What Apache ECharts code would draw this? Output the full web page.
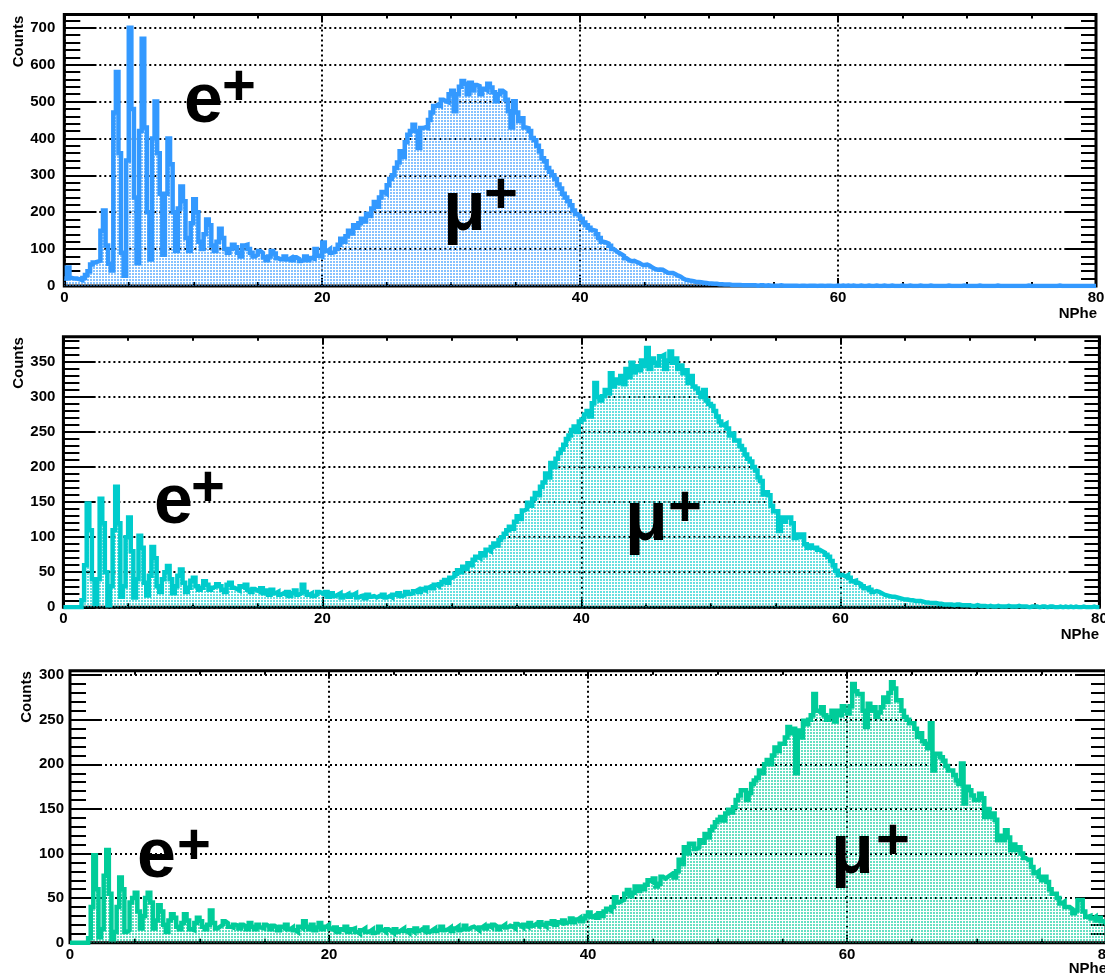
<!DOCTYPE html>
<html>
<head>
<meta charset="utf-8">
<script src="https://cdn.jsdelivr.net/npm/echarts@6/dist/echarts.min.js"></script>
<style>
  html, body { margin: 0; padding: 0; background: #ffffff; }
  #chart { width: 1105px; height: 976px; }
</style>
</head>
<body>
<div id="chart"></div>
<script>
// NPhe histograms, 0.2 photo-electron bins from 0 to 80
const binWidth = 0.2;
const xMin = 0;
const xMax = 80;
const xTickStep = 20;
const xMinorSplit = 4;

// counts per bin, five bins per unit of NPhe
const countsTop = [
  20, 50, 22, 20, 20,   18, 16, 22, 30, 40,
  58, 64, 66, 68, 150,  205, 110, 60, 42, 470,
  580, 360, 90, 28, 340, 700, 480, 240, 62, 420,
  670, 430, 200, 72, 400, 500, 360, 250, 85, 250,
  400, 330, 200, 95, 210, 270, 230, 130, 95, 170,
  235, 200, 120, 100, 140, 180, 165, 110, 95, 120,
  155, 130, 100, 90, 100, 112, 105, 90, 80, 110,
  112, 100, 90, 80, 85,  95, 90, 78, 70, 80,
  95, 88, 75, 72, 74,    80, 72, 76, 70, 78,
  74, 68, 72, 80, 70,    76, 74, 100, 82, 80,
  118, 95, 100, 90, 92,  100, 112, 128, 120, 135,
  150, 142, 165, 158, 170, 182, 175, 196, 190, 210,
  228, 215, 240, 255, 250, 273, 290, 300, 320, 335,
  365, 350, 390, 410, 420, 437, 420, 374, 428, 430,
  428, 450, 470, 488, 492, 488, 505, 501, 498, 520,
  529, 474, 520, 540, 556, 548, 520, 551, 530, 545,
  542, 520, 535, 530, 548, 538, 525, 501, 520, 529,
  524, 505, 474, 430, 501, 470, 447, 455, 430, 428,
  420, 401, 395, 380, 365, 346, 338, 320, 310, 300,
  290, 275, 264, 250, 240, 230, 219, 205, 195, 190,
  182, 172, 165, 158, 152, 150, 140, 130, 120, 118,
  115, 109, 100, 95, 90,  86, 82, 75, 70, 67,
  68, 65, 62, 58, 57,    58, 55, 50, 46, 44,
  45, 44, 40, 36, 35,    35, 32, 28, 25, 20,
  17, 16, 14, 13, 11,    11, 10, 9, 8, 7,
  7, 6, 6, 5, 5,         4, 4, 4, 3, 3,
  3, 3, 2, 2, 2,         2, 2, 2, 1, 2,
  2, 1, 2, 1, 1,         1, 1, 2, 1, 1,
  1, 1, 1, 1, 0,         1, 1, 0, 1, 1,
  1, 0, 1, 1, 0,         1, 1, 0, 0, 1,
  0, 1, 0, 1, 0,         1, 0, 0, 1, 0,
  0, 1, 0, 0, 1,         0, 0, 1, 0, 0,
  1, 0, 0, 0, 1,         0, 0, 1, 0, 0,
  0, 1, 0, 0, 0,         1, 0, 0, 0, 0,
  0, 0, 1, 0, 0,         0, 0, 0, 1, 0,
  0, 0, 0, 0, 1,         0, 0, 0, 0, 0,
  0, 1, 0, 0, 0,         0, 0, 0, 0, 0,
  0, 0, 0, 1, 0,         0, 0, 0, 0, 0,
  0, 0, 0, 0, 0,         1, 0, 0, 0, 0,
  0, 0, 0, 0, 0,         0, 0, 0, 0, 0
];

const countsMiddle = [
  0, 0, 0, 0, 0,         0, 0, 10, 60, 148,
  110, 40, 5, 40, 155,   120, 50, 3, 30, 110,
  172, 120, 15, 30, 100, 128, 80, 14, 40, 102,
  85, 35, 17, 45, 86,    70, 30, 22, 40, 50,
  59, 40, 20, 30, 45,    54, 35, 22, 28, 38,
  42, 30, 25, 28, 37,    32, 25, 28, 30, 33,
  30, 25, 22, 32, 35,    28, 26, 24, 30, 28,
  32, 25, 22, 26, 24,    22, 27, 20, 24, 18,
  25, 20, 22, 18, 20,    18, 22, 16, 20, 24,
  18, 20, 32, 22, 18,    20, 16, 18, 22, 20,
  18, 22, 15, 20, 16,    18, 20, 14, 17, 19,
  15, 18, 20, 14, 16,    17, 13, 18, 15, 16,
  14, 16, 15, 18, 14,    16, 14, 18, 17, 20,
  16, 18, 22, 19, 20,    23, 25, 22, 26, 24,
  28, 30, 27, 32, 30,    33, 36, 39, 35, 42,
  44, 48, 53, 50, 58,    55, 63, 60, 68, 72,
  70, 77, 74, 82, 80,    86, 91, 88, 96, 100,
  105, 110, 115, 112, 122, 130, 126, 138, 140, 149,
  145, 155, 163, 160, 172, 178, 191, 185, 206, 200,
  212, 220, 225, 232, 240, 245, 253, 258, 250, 265,
  268, 275, 280, 272, 291, 320, 300, 295, 301, 310,
  305, 334, 315, 325, 320, 330, 318, 340, 328, 349,
  335, 344, 338, 352, 344, 370, 340, 355, 349, 345,
  358, 360, 340, 352, 365, 349, 355, 340, 345, 334,
  338, 320, 330, 315, 312, 306, 300, 310, 295, 290,
  287, 280, 272, 265, 260, 262, 255, 245, 248, 238,
  238, 230, 225, 218, 212, 208, 200, 195, 185, 180,
  161, 164, 160, 145, 137, 137, 109, 128, 122, 128,
  128, 120, 99, 104, 100, 104, 90, 85, 88, 85,
  85, 82, 80, 78, 75,    72, 66, 60, 52, 46,
  46, 44, 46, 42, 37,    38, 35, 33, 30, 27,
  28, 25, 22, 23, 22,    20, 18, 17, 16, 15,
  15, 14, 13, 12, 11,    11, 10, 10, 9, 9,
  9, 8, 7, 7, 6,         6, 6, 5, 5, 4,
  4, 4, 4, 3, 4,         4, 3, 3, 3, 3,
  2, 2, 3, 2, 2,         2, 1, 2, 1, 1,
  2, 1, 1, 1, 2,         1, 1, 1, 2, 1,
  1, 1, 0, 1, 1,         1, 0, 1, 1, 0,
  1, 1, 0, 0, 1,         0, 1, 0, 1, 0,
  1, 0, 0, 1, 0,         0, 0, 1, 0, 0
];

const countsBottom = [
  0, 0, 0, 0, 0,         0, 0, 5, 40, 98,
  60, 6, 15, 75, 104,    55, 4, 12, 40, 73,
  60, 12, 14, 45, 50,    56, 35, 16, 30, 50,
  56, 45, 16, 25, 42,    35, 20, 12, 25, 32,
  28, 18, 15, 22, 32,    25, 15, 14, 22, 28,
  24, 18, 15, 20, 36,    22, 16, 18, 20, 24,
  22, 18, 17, 20, 19,    16, 20, 18, 15, 22,
  18, 15, 20, 17, 16,    20, 18, 15, 19, 17,
  14, 18, 16, 20, 15,    17, 14, 12, 18, 16,
  24, 18, 15, 20, 14,    17, 22, 15, 18, 20,
  16, 14, 17, 12, 15,    14, 18, 12, 15, 16,
  12, 10, 14, 16, 12,    13, 15, 11, 12, 18,
  14, 12, 15, 13, 11,    15, 12, 14, 16, 13,
  11, 14, 12, 16, 13,    15, 13, 17, 12, 14,
  16, 13, 15, 18, 14,    15, 17, 13, 16, 18,
  14, 16, 19, 15, 17,    18, 16, 14, 17, 19,
  16, 19, 17, 20, 18,    15, 18, 20, 17, 19,
  18, 16, 21, 19, 17,    20, 18, 22, 19, 21,
  19, 23, 20, 18, 22,    21, 24, 20, 23, 22,
  25, 22, 24, 27, 23,    26, 28, 24, 27, 30,
  34, 29, 31, 28, 33,    30, 35, 38, 36, 40,
  51, 45, 47, 48, 55,    59, 52, 56, 63, 58,
  63, 60, 65, 70, 68,    72, 63, 66, 74, 72,
  74, 76, 78, 73, 80,    93, 88, 107, 100, 111,
  111, 105, 107, 115, 112, 122, 118, 126, 130, 135,
  138, 141, 137, 145, 149, 146, 152, 160, 165, 171,
  171, 160, 168, 178, 182, 185, 193, 190, 200, 205,
  200, 210, 219, 215, 223, 223, 230, 242, 235, 240,
  190, 238, 230, 249, 245, 250, 255, 279, 260, 258,
  264, 255, 250, 253, 260, 248, 260, 255, 265, 260,
  257, 265, 290, 282, 279, 279, 260, 242, 268, 260,
  264, 253, 258, 264, 275, 270, 280, 292, 285, 272,
  272, 260, 253, 250, 246, 246, 240, 231, 235, 226,
  223, 218, 246, 193, 212, 212, 208, 204, 198, 193,
  193, 188, 182, 178, 201, 156, 175, 171, 165, 160,
  160, 167, 162, 141, 150, 141, 145, 138, 115, 120,
  115, 126, 118, 104, 110, 104, 107, 100, 95, 93,
  93, 85, 78, 80, 74,    70, 74, 68, 60, 55,
  55, 50, 44, 46, 40,    40, 38, 33, 36, 48,
  48, 35, 29, 30, 27,    29, 25, 28, 24, 22
];

const seriesCounts = [countsTop, countsMiddle, countsBottom];
const yAxisMax = [736, 386, 305];
const yMajorStep = [100, 50, 50];
const yMinorStep = [20, 10, 10];
const lineColors = ['#3399ff', '#00cccc', '#00cc99'];
const yTitle = 'Counts';
const xTitle = 'NPhe';
const peakLabels = [
  [{ base: 'e', sup: '+' }, { base: 'μ', sup: '+' }],
  [{ base: 'e', sup: '+' }, { base: 'μ', sup: '+' }],
  [{ base: 'e', sup: '+' }, { base: 'μ', sup: '+' }]
];

// pad geometry (pixels)
const pads = [
  { left: 64.3, top: 14.5, width: 1031.7, height: 271.5, yLabelMargin: 9, xLabelMargin: 4,
    yTitleAt: [19, 41.5], xTitleAt: [1097, 314],
    labelAt: [{ x: 184, base: 127, supX: 239, supY: 89 }, { x: 443, base: 235, supX: 501, supY: 197 }] },
  { left: 63.4, top: 336.7, width: 1036, height: 270.6, yLabelMargin: 8, xLabelMargin: 4,
    yTitleAt: [19, 363], xTitleAt: [1099, 634.5],
    labelAt: [{ x: 154, base: 528, supX: 208, supY: 490 }, { x: 625, base: 545, supX: 685, supY: 510 }] },
  { left: 70, top: 670.7, width: 1036, height: 272, yLabelMargin: 6, xLabelMargin: 5,
    yTitleAt: [27, 697], xTitleAt: [1107, 969],
    labelAt: [{ x: 137, base: 882, supX: 194, supY: 848 }, { x: 831, base: 878, supX: 893, supY: 843 }] }
];

const FONT = '"Liberation Sans", Arial, Helvetica, sans-serif';
const BIG = 70;
const SUP = 58;

// sparse dot hatch in the histogram colour
function dotPattern(color) {
  const c = document.createElement('canvas');
  c.width = 3; c.height = 3;
  const g = c.getContext('2d');
  g.globalAlpha = 0.6;
  g.fillStyle = color;
  g.fillRect(0, 0, 2, 2);
  return c;
}

function histPoints(counts) {
  const pts = counts.map((v, i) => [xMin + i * binWidth, v]);
  pts.push([xMin + counts.length * binWidth, counts[counts.length - 1]]);
  return pts;
}

const tickStyle = { color: '#000', width: 2 };
const labelStyle = { color: '#000', fontFamily: FONT, fontWeight: 'bold', fontSize: 15 };
const dotted = { color: '#000', width: 2, type: [2, 3] };

const grids = [], xAxes = [], yAxes = [], series = [], graphics = [];

pads.forEach((p, gi) => {
  grids.push({
    left: p.left, top: p.top, width: p.width, height: p.height,
    show: true, borderColor: '#000', borderWidth: 3, backgroundColor: 'transparent',
    containLabel: false, outerBoundsMode: 'none'
  });

  const xBase = { gridIndex: gi, type: 'value', min: xMin, max: xMax, interval: xTickStep };
  xAxes.push({
    ...xBase, position: 'bottom',
    axisLine: { show: false, onZero: false },
    axisTick: { show: true, inside: true, length: 8, lineStyle: tickStyle },
    minorTick: { show: true, splitNumber: xMinorSplit, length: 4, lineStyle: tickStyle },
    axisLabel: { ...labelStyle, margin: p.xLabelMargin },
    splitLine: { show: true, lineStyle: dotted },
    minorSplitLine: { show: false }
  });
  xAxes.push({
    ...xBase, position: 'top',
    axisLine: { show: false, onZero: false },
    axisTick: { show: true, inside: true, length: 8, lineStyle: tickStyle },
    minorTick: { show: true, splitNumber: xMinorSplit, length: 4, lineStyle: tickStyle },
    axisLabel: { show: false },
    splitLine: { show: false }
  });

  const yBase = { gridIndex: gi, type: 'value', min: 0, max: yAxisMax[gi] };
  yAxes.push({
    ...yBase, interval: yMajorStep[gi], position: 'left',
    axisLine: { show: false, onZero: false },
    axisTick: { show: true, inside: true, length: 32, lineStyle: tickStyle },
    axisLabel: { ...labelStyle, margin: p.yLabelMargin, showMaxLabel: false },
    splitLine: { show: true, lineStyle: dotted }
  });
  yAxes.push({
    ...yBase, interval: yMinorStep[gi], position: 'left',
    axisLine: { show: false, onZero: false },
    axisTick: { show: true, inside: true, length: 16, lineStyle: tickStyle },
    axisLabel: { show: false }, splitLine: { show: false }
  });
  yAxes.push({
    ...yBase, interval: yMajorStep[gi], position: 'right',
    axisLine: { show: false, onZero: false },
    axisTick: { show: true, inside: true, length: 30, lineStyle: tickStyle },
    axisLabel: { show: false }, splitLine: { show: false }
  });
  yAxes.push({
    ...yBase, interval: yMinorStep[gi], position: 'right',
    axisLine: { show: false, onZero: false },
    axisTick: { show: true, inside: true, length: 15, lineStyle: tickStyle },
    axisLabel: { show: false }, splitLine: { show: false }
  });

  series.push({
    type: 'line', xAxisIndex: 2 * gi, yAxisIndex: 4 * gi,
    data: histPoints(seriesCounts[gi]),
    step: 'end', symbol: 'none', silent: true, clip: true,
    lineStyle: { color: lineColors[gi], width: 4.5, join: 'miter' },
    itemStyle: { color: lineColors[gi] },
    areaStyle: { color: { image: dotPattern(lineColors[gi]), repeat: 'repeat' }, opacity: 1 },
    z: 2
  });

  graphics.push({
    type: 'text', x: p.yTitleAt[0], y: p.yTitleAt[1], rotation: Math.PI / 2, z: 100,
    style: { text: yTitle, font: 'bold 15px ' + FONT, fill: '#000', align: 'center', verticalAlign: 'middle' }
  });
  graphics.push({
    type: 'text', x: p.xTitleAt[0], y: p.xTitleAt[1], z: 100,
    style: { text: xTitle, font: 'bold 15px ' + FONT, fill: '#000', align: 'right', verticalAlign: 'middle' }
  });

  peakLabels[gi].forEach((lab, k) => {
    const at = p.labelAt[k];
    graphics.push({
      type: 'text', x: at.x, y: at.base - 0.3465 * BIG, z: 100,
      style: { text: lab.base, font: 'bold ' + BIG + 'px ' + FONT, fill: '#000', align: 'left', verticalAlign: 'middle' }
    });
    graphics.push({
      type: 'text', x: at.supX, y: at.supY, z: 100,
      style: { text: lab.sup, font: 'bold ' + SUP + 'px ' + FONT, fill: '#000', align: 'center', verticalAlign: 'middle' }
    });
  });
});

const chart = echarts.init(document.getElementById('chart'), null, { renderer: 'canvas' });
chart.setOption({
  animation: false,
  backgroundColor: '#ffffff',
  grid: grids,
  xAxis: xAxes,
  yAxis: yAxes,
  series: series,
  graphic: graphics
});
</script>
</body>
</html>
